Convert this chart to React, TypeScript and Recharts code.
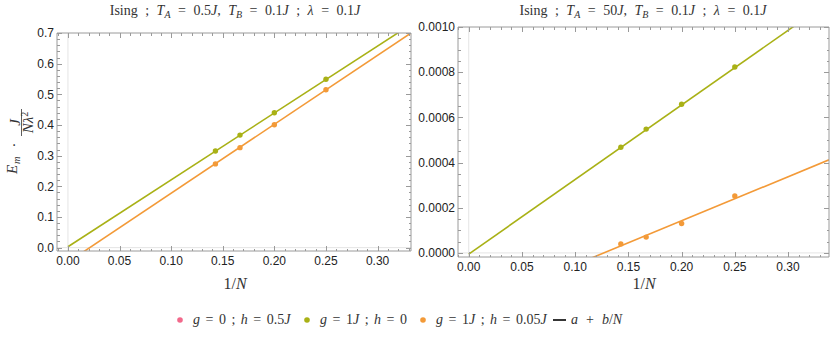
import React from 'react';
import { ComposedChart, Line, Scatter, XAxis, YAxis, ReferenceLine } from 'recharts';

// 1/N for N = 7, 6, 5, 4
const invN = [0.1429, 0.1667, 0.2, 0.25];

// left panel: T_A = 0.5J
const leftGreen = [0.315, 0.367, 0.44, 0.549];
const leftOrange = [0.273, 0.326, 0.401, 0.515];
const leftFitX = [0, 0.3324];
const leftGreenFit = [0.003, 0.728];
const leftOrangeFit = [-0.0475, 0.7];

// right panel: T_A = 50J
const rightGreen = [0.000468, 0.000548, 0.000658, 0.000823];
const rightOrange = [0.00004, 0.00007, 0.00013, 0.000252];
const rightFitX = [0, 0.3385];
const rightGreenFit = [-0.000005, 0.001112];
const rightOrangeFit = [-0.000247, 0.000412];

const xMajor = [0, 0.05, 0.1, 0.15, 0.2, 0.25, 0.3];
const yMajorLeft = [0, 0.1, 0.2, 0.3, 0.4, 0.5, 0.6, 0.7];
const yMajorRight = [0, 0.0002, 0.0004, 0.0006, 0.0008, 0.001];

const PINK = '#f2698b';
const GREEN = '#a9b116';
const ORANGE = '#f39a38';
const FRAME = '#9a9a9a';
const SERIF = '"Liberation Serif", "Times New Roman", serif';
const SANS = '"Liberation Sans", Arial, sans-serif';

const toPts = (xs: number[], ys: number[]) => xs.map((x, i) => ({ x, y: ys[i] }));

function minorTicks(lo: number, hi: number, step: number) {
  const out: number[] = [];
  for (let i = Math.ceil(lo / step - 1e-9); i * step <= hi + 1e-12; i++) {
    out.push(+(i * step).toFixed(8));
  }
  return out;
}

const px = (v: any) => Math.round(Number(v)) + 0.5;

// Mathematica-style frame tick: inward mark, label only on majors of the bottom / left sides
function FrameTick(props: any) {
  const { x, y, payload, side, majors, digits, showText } = props;
  const v = payload.value;
  const major = majors.some((m: number) => Math.abs(m - v) < 1e-10);
  const len = major ? 5 : 2.5;
  const X = Number(x);
  const Y = Number(y);
  let d = '';
  let text = null;
  if (side === 'bottom') {
    d = `M${px(X)},${Y}V${Y - len}`;
    if (showText && major)
      text = <text x={X} y={Y + 14} textAnchor="middle" fontSize={12} fontFamily={SANS} fill="#222">{v.toFixed(digits)}</text>;
  } else if (side === 'top') {
    d = `M${px(X)},${Y}V${Y + len}`;
  } else if (side === 'left') {
    d = `M${X},${px(Y)}H${X + len}`;
    if (showText && major)
      text = <text x={X - 3} y={Y + 4.3} textAnchor="end" fontSize={12} fontFamily={SANS} fill="#222">{v.toFixed(digits)}</text>;
  } else {
    d = `M${X},${px(Y)}H${X - len}`;
  }
  return (
    <g>
      <path d={d} stroke={FRAME} strokeWidth={1} fill="none" shapeRendering="crispEdges" />
      {text}
    </g>
  );
}

function Dot(props: any) {
  const { cx, cy, fill } = props;
  return <circle cx={cx} cy={cy} r={2.7} fill={fill} />;
}

function Panel(p: {
  width: number; height: number; top: number; right: number; yWidth: number; xHeight: number;
  xDomain: number[]; yDomain: number[]; yMajors: number[]; yStep: number; yDigits: number;
  fitX: number[]; greenFit: number[]; orangeFit: number[]; green: number[]; orange: number[];
}) {
  const xTicks = minorTicks(p.xDomain[0], p.xDomain[1], 0.01);
  const yTicks = minorTicks(p.yDomain[0], p.yDomain[1], p.yStep);
  return (
    <ComposedChart width={p.width} height={p.height} margin={{ top: p.top - 1, right: p.right - 1, left: 0, bottom: 0 }}>
      <XAxis xAxisId={0} type="number" dataKey="x" domain={p.xDomain} ticks={xTicks} interval={0}
        allowDataOverflow height={p.xHeight} stroke={FRAME} tickSize={0} tickMargin={0} tickLine={false}
        tick={(t: any) => <FrameTick {...t} side="bottom" majors={xMajor} digits={2} showText />} />
      <XAxis xAxisId="top" orientation="top" type="number" dataKey="x" domain={p.xDomain} ticks={xTicks} interval={0}
        allowDataOverflow height={1} stroke={FRAME} tickSize={0} tickMargin={0} tickLine={false}
        tick={(t: any) => <FrameTick {...t} side="top" majors={xMajor} />} />
      <YAxis yAxisId={0} type="number" dataKey="y" domain={p.yDomain} ticks={yTicks} interval={0}
        allowDataOverflow width={p.yWidth} stroke={FRAME} tickSize={0} tickMargin={0} tickLine={false}
        tick={(t: any) => <FrameTick {...t} side="left" majors={p.yMajors} digits={p.yDigits} showText />} />
      <YAxis yAxisId="right" orientation="right" type="number" dataKey="y" domain={p.yDomain} ticks={yTicks} interval={0}
        allowDataOverflow width={1} stroke={FRAME} tickSize={0} tickMargin={0} tickLine={false}
        tick={(t: any) => <FrameTick {...t} side="right" majors={p.yMajors} />} />
      <ReferenceLine x={0} stroke="#e4e4e4" strokeWidth={1} />
      <ReferenceLine y={0} stroke="#e4e4e4" strokeWidth={1} />
      {/* invisible copy so the top / right frame axes have a series */}
      <Line xAxisId="top" yAxisId="right" data={toPts(p.fitX, p.greenFit)} dataKey="y" stroke="none"
        dot={false} activeDot={false} isAnimationActive={false} />
      <Line data={toPts(p.fitX, p.greenFit)} dataKey="y" type="linear" stroke={GREEN} strokeWidth={1.6}
        dot={false} activeDot={false} isAnimationActive={false} />
      <Line data={toPts(p.fitX, p.orangeFit)} dataKey="y" type="linear" stroke={ORANGE} strokeWidth={1.6}
        dot={false} activeDot={false} isAnimationActive={false} />
      <Scatter data={toPts(invN, p.green)} dataKey="y" fill={GREEN} shape={<Dot />} isAnimationActive={false} />
      <Scatter data={toPts(invN, p.orange)} dataKey="y" fill={ORANGE} shape={<Dot />} isAnimationActive={false} />
    </ComposedChart>
  );
}

const sub = (s: string) => (
  <span style={{ fontSize: 10, position: 'relative', top: 3, fontStyle: 'italic', wordSpacing: 0 }}>{s}</span>
);

function Title({ ta, left }: { ta: string; left: number }) {
  return (
    <div style={{ position: 'absolute', left: left - 150, width: 300, top: 3, textAlign: 'center',
      fontFamily: SERIF, fontSize: 14, lineHeight: '16px', color: '#333', whiteSpace: 'nowrap', wordSpacing: 4 }}>
      Ising ; <i>T</i>{sub('A')} = {ta}<i>J</i>, <i>T</i>{sub('B')} = 0.1<i>J</i> ; <i>λ</i> = 0.1<i>J</i>
    </div>
  );
}

function XLabel({ left }: { left: number }) {
  return (
    <div style={{ position: 'absolute', left: left - 30, width: 60, top: 275, textAlign: 'center',
      fontFamily: SERIF, fontSize: 16, lineHeight: '18px', color: '#333' }}>
      1/<i>N</i>
    </div>
  );
}

function YLabel() {
  const f = { fontFamily: SERIF, fill: '#333' };
  return (
    <svg width={40} height={200} style={{ position: 'absolute', left: 0, top: 0 }}>
      <text transform="translate(17,174) rotate(-90)" fontSize={15} fontStyle="italic" {...f}>E</text>
      <text transform="translate(20,164) rotate(-90)" fontSize={10.5} fontStyle="italic" {...f}>m</text>
      <text transform="translate(19,145) rotate(-90)" fontSize={15} textAnchor="middle" {...f}>·</text>
      <text transform="translate(19.5,122.5) rotate(-90)" fontSize={15} fontStyle="italic" textAnchor="middle" {...f}>J</text>
      <line x1={21.5} y1={109} x2={21.5} y2={136} stroke="#333" strokeWidth={0.8} />
      <text transform="translate(32.5,122.5) rotate(-90)" fontSize={15} textAnchor="middle" {...f}>
        <tspan fontStyle="italic">N</tspan>
        <tspan fontStyle="italic">λ</tspan>
        <tspan fontSize={10} dy={-5}>2</tspan>
      </text>
    </svg>
  );
}

function LegendItem({ color, left, spacing, children }: { color?: string; left: number; spacing?: number; children: React.ReactNode }) {
  return (
    <div style={{ position: 'absolute', left, top: 0, display: 'flex', alignItems: 'center', wordSpacing: spacing ?? 2 }}>
      {color ? (
        <svg width={8} height={8} style={{ marginRight: 9 }}><circle cx={4} cy={4} r={2.8} fill={color} /></svg>
      ) : (
        <svg width={13} height={8} style={{ marginRight: 5 }}><line x1={0} y1={4} x2={13} y2={4} stroke="#111" strokeWidth={1.7} /></svg>
      )}
      <span>{children}</span>
    </div>
  );
}

export default function App() {
  return (
    <div style={{ position: 'absolute', left: 0, top: 0, width: 830, height: 337, background: '#fff', overflow: 'hidden' }}>
      <div style={{ position: 'absolute', left: 0, top: 0 }}>
        <Panel width={415} height={300} top={33} right={4} yWidth={57} xHeight={49}
          xDomain={[-0.0106, 0.3324]} yDomain={[-0.011, 0.7]} yMajors={yMajorLeft} yStep={0.02} yDigits={1}
          fitX={leftFitX} greenFit={leftGreenFit} orangeFit={leftOrangeFit} green={leftGreen} orange={leftOrange} />
      </div>
      <div style={{ position: 'absolute', left: 410, top: 0 }}>
        <Panel width={420} height={300} top={27} right={1} yWidth={48} xHeight={43}
          xDomain={[-0.0101, 0.3385]} yDomain={[-0.000018, 0.001]} yMajors={yMajorRight} yStep={0.00005} yDigits={4}
          fitX={rightFitX} greenFit={rightGreenFit} orangeFit={rightOrangeFit} green={rightGreen} orange={rightOrange} />
      </div>
      <Title ta="0.5" left={235} />
      <Title ta="50" left={643} />
      <XLabel left={235} />
      <XLabel left={644} />
      <YLabel />
      <div style={{ position: 'absolute', left: 0, top: 311, width: 830, height: 20,
        fontFamily: SERIF, fontSize: 14, lineHeight: '18px', color: '#333', whiteSpace: 'nowrap' }}>
        <LegendItem color={PINK} left={176}><i>g</i> = 0 ; <i>h</i> = 0.5<i>J</i></LegendItem>
        <LegendItem color={GREEN} left={303}><i>g</i> = 1<i>J</i> ; <i>h</i> = 0</LegendItem>
        <LegendItem color={ORANGE} left={419}><i>g</i> = 1<i>J</i> ; <i>h</i> = 0.05<i>J</i></LegendItem>
        <LegendItem left={553} spacing={4.5}><i>a</i> + <i>b</i>/<i>N</i></LegendItem>
      </div>
    </div>
  );
}
